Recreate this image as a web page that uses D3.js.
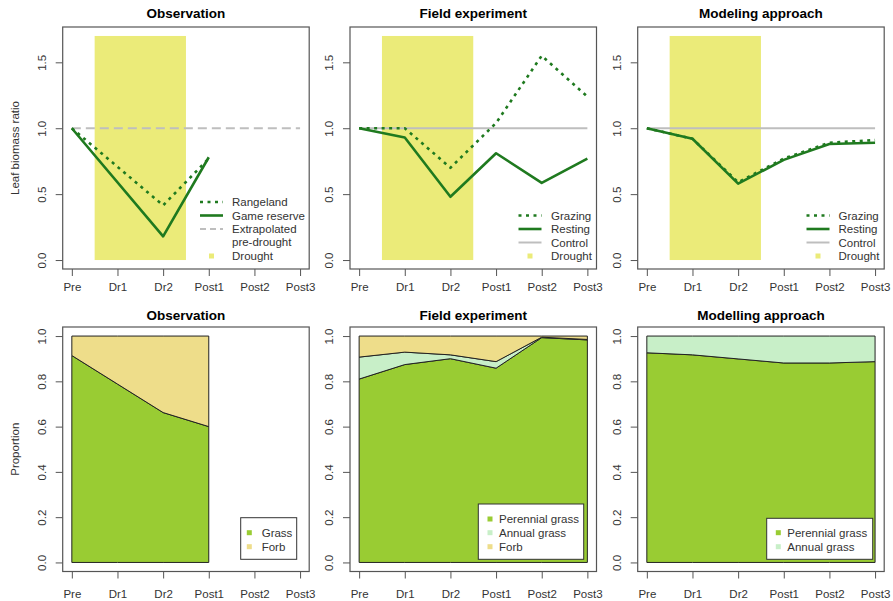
<!DOCTYPE html>
<html><head><meta charset="utf-8">
<script src="https://cdn.jsdelivr.net/npm/d3@7"></script>
<style>body{margin:0;background:#fff}svg{display:block;font-family:"Liberation Sans",Arial,sans-serif}</style>
</head><body>
<svg id="chart" width="893" height="601"></svg>
<script>
// ---------- data ----------
const categories = ["Pre","Dr1","Dr2","Post1","Post2","Post3"];
const yTicksTop = [0, 0.5, 1.0, 1.5];
const yTicksBottom = [0, 0.2, 0.4, 0.6, 0.8, 1.0];
const droughtStart = 1.5, droughtEnd = 3.5, droughtTop = 1.7;

// Observation (leaf biomass ratio) measured at Pre, Dr2, Post1
const obsCats = ["Pre","Dr2","Post1"];
const obsRangeland = [1.0, 0.415, 0.77];
const obsGameReserve = [1.0, 0.18, 0.78];
const obsExtrapolated = [1.0, 1.0, 1.0, 1.0, 1.0, 1.0];

// Field experiment
const fieldGrazing = [1.0, 1.0, 0.70, 1.04, 1.55, 1.24];
const fieldResting = [1.0, 0.93, 0.48, 0.81, 0.585, 0.77];
const fieldControl = [1.0, 1.0, 1.0, 1.0, 1.0, 1.0];

// Modeling approach
const modelGrazing = [1.0, 0.92, 0.59, 0.77, 0.89, 0.91];
const modelResting = [1.0, 0.92, 0.58, 0.76, 0.88, 0.89];
const modelControl = [1.0, 1.0, 1.0, 1.0, 1.0, 1.0];

// Proportions
const obsPropCats = ["Pre","Dr1","Dr2","Post1"];
const obsGrass = [0.914, 0.788, 0.662, 0.60];
const obsForb = [0.086, 0.212, 0.338, 0.40];

const fieldPerennial = [0.81, 0.874, 0.90, 0.858, 0.993, 0.983];
const fieldAnnual = [0.097, 0.055, 0.017, 0.029, 0.002, 0.002];
const fieldForb = [0.093, 0.071, 0.083, 0.113, 0.005, 0.015];

const modelPerennial = [0.926, 0.917, 0.899, 0.881, 0.881, 0.887];
const modelAnnual = [0.074, 0.083, 0.101, 0.119, 0.119, 0.113];

// ---------- styles ----------
const C = {
  drought: "#ebeb79", green: "#1f7a1f", gray: "#bebebe",
  grass: "#99cc33", forb: "#eedd8a", annual: "#c8efc8",
  box: "#555", tick: "#333"
};
const FS = 11.5;

const svg = d3.select("#chart");
const boxLefts = [62.7, 350, 637.7];
const boxW = 246.5;
const topBox = {top: 27, bottom: 269};
const botBox = {top: 327, bottom: 571.5};
const idx = c => categories.indexOf(c) + 1;

function makePanel(i, box, yDomain, yTicks, fmt, title, titleY, labelY) {
  const L = boxLefts[i], R = L + boxW;
  const x = d3.scaleLinear().domain([0.8, 6.2]).range([L, R]);
  const y = d3.scaleLinear().domain(yDomain).range([box.bottom, box.top]);
  const g = svg.append("g");
  const xa = svg.append("g").attr("transform", `translate(0,${box.bottom})`)
    .call(d3.axisBottom(x).tickValues([1,2,3,4,5,6]).tickFormat(v => categories[v-1]).tickSize(7).tickSizeOuter(0));
  xa.select(".domain").remove();
  xa.selectAll("line").attr("stroke", C.box);
  xa.selectAll("text").attr("y", labelY - box.bottom).attr("dy", "0.35em")
    .attr("font-size", FS).attr("fill", C.tick).attr("font-family", "Liberation Sans, Arial, sans-serif");
  const ya = svg.append("g").attr("transform", `translate(${L},0)`)
    .call(d3.axisLeft(y).tickValues(yTicks).tickFormat(fmt).tickSize(7).tickSizeOuter(0));
  ya.select(".domain").remove();
  ya.selectAll("line").attr("stroke", C.box);
  ya.selectAll("text").attr("x", null).attr("dy", null)
    .attr("transform", "translate(-21,0) rotate(-90)").attr("text-anchor", "middle").attr("dy", "0.35em")
    .attr("font-size", FS).attr("fill", C.tick).attr("font-family", "Liberation Sans, Arial, sans-serif");
  svg.append("text").attr("x", (L + R) / 2).attr("y", titleY).attr("text-anchor", "middle")
    .attr("dy", "0.35em").attr("font-weight", "bold").attr("font-size", 13.5).attr("fill", "#000").text(title);
  return {g, x, y, L, R};
}

function drawBox(p, box) {
  svg.append("rect").attr("x", p.L).attr("y", box.top).attr("width", boxW).attr("height", box.bottom - box.top)
    .attr("fill", "none").attr("stroke", C.box).attr("stroke-width", 1.2);
}

const f1 = d3.format(".1f");
const titlesTop = ["Observation", "Field experiment", "Modeling approach"];
const titlesBot = ["Observation", "Field experiment", "Modelling approach"];

// ---------- top row ----------
const topPanels = titlesTop.map((t, i) => makePanel(i, topBox, [-0.068, 1.768], yTicksTop, f1, t, 13, 287));
topPanels.forEach(p => {
  p.g.append("rect").attr("x", p.x(droughtStart)).attr("y", p.y(droughtTop))
    .attr("width", p.x(droughtEnd) - p.x(droughtStart)).attr("height", p.y(0) - p.y(droughtTop))
    .attr("fill", C.drought);
});

function drawLine(p, cats, vals, color, width, dash) {
  const line = d3.line().x(d => p.x(idx(d.c))).y(d => p.y(d.v));
  p.g.append("path").datum(cats.map((c, k) => ({c, v: vals[k]})))
    .attr("d", line).attr("fill", "none").attr("stroke", color).attr("stroke-width", width)
    .attr("stroke-dasharray", dash || null).attr("stroke-linejoin", "round");
}

drawLine(topPanels[0], categories, obsExtrapolated, C.gray, 2, "9,5");
drawLine(topPanels[0], obsCats, obsRangeland, C.green, 2.6, "3,4.5");
drawLine(topPanels[0], obsCats, obsGameReserve, C.green, 2.6);
drawLine(topPanels[1], categories, fieldControl, C.gray, 2);
drawLine(topPanels[1], categories, fieldGrazing, C.green, 2.6, "3,4.5");
drawLine(topPanels[1], categories, fieldResting, C.green, 2.6);
drawLine(topPanels[2], categories, modelControl, C.gray, 2);
drawLine(topPanels[2], categories, modelGrazing, C.green, 2.6, "3,4.5");
drawLine(topPanels[2], categories, modelResting, C.green, 2.6);

topPanels.forEach(p => drawBox(p, topBox));

const legendTop = [
  {sx: 200, tx: 232, items: [
    {t: "Rangeland", type: "line", dash: "3,4.5", c: C.green, y: 202},
    {t: "Game reserve", type: "line", c: C.green, y: 215.5},
    {t: "Extrapolated", type: "line", dash: "6,4", c: C.gray, y: 229, w: 2},
    {t: "pre-drought", type: "none", y: 242},
    {t: "Drought", type: "sq", c: C.drought, y: 256}]},
  {sx: 518.5, tx: 551, items: [
    {t: "Grazing", type: "line", dash: "3,4.5", c: C.green, y: 215.5},
    {t: "Resting", type: "line", c: C.green, y: 229},
    {t: "Control", type: "line", c: C.gray, y: 242.5, w: 2},
    {t: "Drought", type: "sq", c: C.drought, y: 256}]},
  {sx: 806.5, tx: 838.5, items: [
    {t: "Grazing", type: "line", dash: "3,4.5", c: C.green, y: 215.5},
    {t: "Resting", type: "line", c: C.green, y: 229},
    {t: "Control", type: "line", c: C.gray, y: 242.5, w: 2},
    {t: "Drought", type: "sq", c: C.drought, y: 256}]}
];
legendTop.forEach(lg => {
  const g = svg.append("g");
  lg.items.forEach(it => {
    if (it.type === "line") {
      g.append("line").attr("x1", lg.sx).attr("x2", lg.sx + 23).attr("y1", it.y).attr("y2", it.y)
        .attr("stroke", it.c).attr("stroke-width", it.w || 2.6).attr("stroke-dasharray", it.dash || null);
    } else if (it.type === "sq") {
      g.append("rect").attr("x", lg.sx + 11.5 - 2.5).attr("y", it.y - 2.5).attr("width", 5).attr("height", 5).attr("fill", it.c);
    }
    g.append("text").attr("x", lg.tx).attr("y", it.y).attr("dy", "0.35em").attr("font-size", FS)
      .attr("fill", C.tick).text(it.t);
  });
});

// ---------- bottom row ----------
const botPanels = titlesBot.map((t, i) => makePanel(i, botBox, [-0.04, 1.04], yTicksBottom, f1, t, 315, 593.5));

function stackAreas(p, cats, layers) {
  const rows = cats.map((c, k) => {
    const r = {c};
    layers.forEach(l => r[l.key] = l.vals[k]);
    return r;
  });
  const series = d3.stack().keys(layers.map(l => l.key))(rows);
  const area = d3.area().x(d => p.x(idx(d.data.c))).y0(d => p.y(d[0])).y1(d => p.y(d[1]));
  series.forEach((s, k) => {
    p.g.append("path").attr("d", area(s)).attr("fill", layers[k].color)
      .attr("stroke", "#222").attr("stroke-width", 1).attr("stroke-linejoin", "round");
  });
}

stackAreas(botPanels[0], obsPropCats, [
  {key: "grass", vals: obsGrass, color: C.grass},
  {key: "forb", vals: obsForb, color: C.forb}]);
stackAreas(botPanels[1], categories, [
  {key: "perennial", vals: fieldPerennial, color: C.grass},
  {key: "annual", vals: fieldAnnual, color: C.annual},
  {key: "forb", vals: fieldForb, color: C.forb}]);
stackAreas(botPanels[2], categories, [
  {key: "perennial", vals: modelPerennial, color: C.grass},
  {key: "annual", vals: modelAnnual, color: C.annual}]);

botPanels.forEach(p => drawBox(p, botBox));

const legendBot = [
  {x: 240.7, w: 56, top: 517.7, sqx: 249.3, tx: 261.7, items: [
    {t: "Grass", c: C.grass, y: 532.7}, {t: "Forb", c: C.forb, y: 546.7}]},
  {x: 478.3, w: 105.4, top: 504, sqx: 490, tx: 499, items: [
    {t: "Perennial grass", c: C.grass, y: 519}, {t: "Annual grass", c: C.annual, y: 532.7}, {t: "Forb", c: C.forb, y: 546.7}]},
  {x: 766.7, w: 106, top: 518.3, sqx: 778.3, tx: 787.3, items: [
    {t: "Perennial grass", c: C.grass, y: 532.7}, {t: "Annual grass", c: C.annual, y: 546.7}]}
];
legendBot.forEach(lg => {
  const g = svg.append("g");
  g.append("rect").attr("x", lg.x).attr("y", lg.top).attr("width", lg.w).attr("height", 559.3 - lg.top)
    .attr("fill", "#fff").attr("stroke", "#333").attr("stroke-width", 1);
  lg.items.forEach(it => {
    g.append("rect").attr("x", lg.sqx - 2.5).attr("y", it.y - 2.5).attr("width", 5).attr("height", 5).attr("fill", it.c);
    g.append("text").attr("x", lg.tx).attr("y", it.y).attr("dy", "0.35em").attr("font-size", FS)
      .attr("fill", C.tick).text(it.t);
  });
});

svg.append("text").attr("transform", `translate(15,${(topBox.top + topBox.bottom) / 2}) rotate(-90)`)
  .attr("text-anchor", "middle").attr("dy", "0.35em").attr("font-size", FS).attr("fill", C.tick).text("Leaf biomass ratio");
svg.append("text").attr("transform", `translate(15,${(botBox.top + botBox.bottom) / 2}) rotate(-90)`)
  .attr("text-anchor", "middle").attr("dy", "0.35em").attr("font-size", FS).attr("fill", C.tick).text("Proportion");
</script>
</body></html>
